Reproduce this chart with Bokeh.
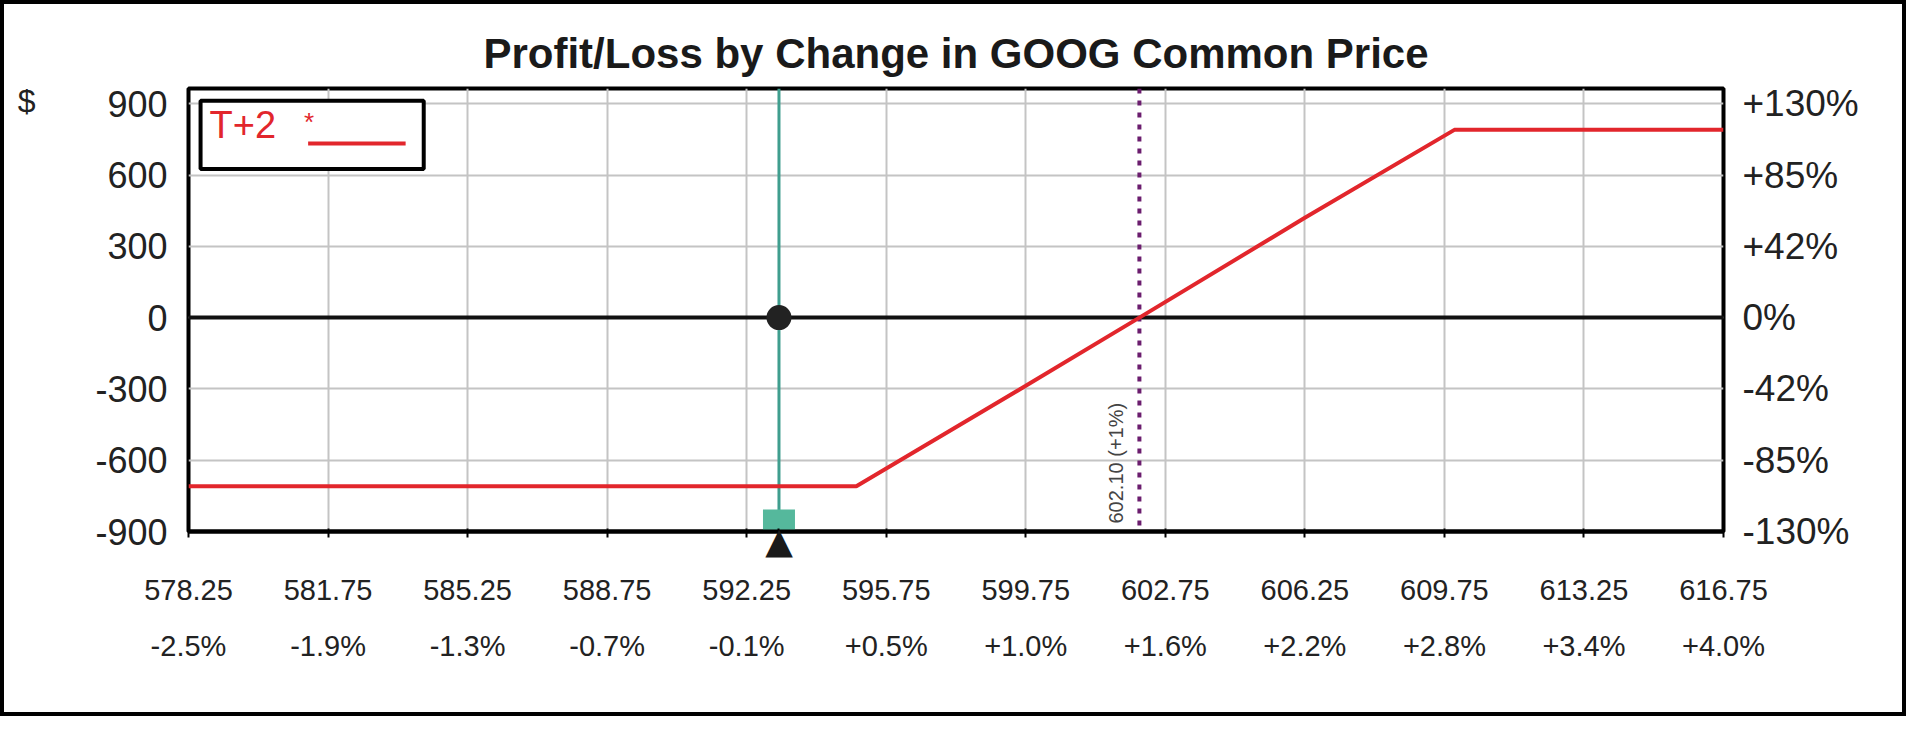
from bokeh.plotting import figure
from bokeh.models import Range1d, LinearAxis, FixedTicker, Span, Label, BoxAnnotation
from bokeh.embed import file_html
from bokeh.resources import INLINE

# ---------------- data ----------------
price = [578.25, 595.0, 599.25, 602.10, 606.25, 610.0, 616.75]
pnl = [-710, -710, -287, 0, 420, 790, 790]

x_ticks = [578.25, 581.75, 585.25, 588.75, 592.25, 595.75, 599.25, 602.75, 606.25, 609.75, 613.25, 616.75]
price_labels = ["578.25", "581.75", "585.25", "588.75", "592.25", "595.75", "599.75",
                "602.75", "606.25", "609.75", "613.25", "616.75"]
pct_labels = ["-2.5%", "-1.9%", "-1.3%", "-0.7%", "-0.1%", "+0.5%", "+1.0%",
              "+1.6%", "+2.2%", "+2.8%", "+3.4%", "+4.0%"]
y_ticks = [-900, -600, -300, 0, 300, 600, 900]
y_labels = ["-900", "-600", "-300", "0", "300", "600", "900"]
y_pct_labels = ["-130%", "-85%", "-42%", "0%", "+42%", "+85%", "+130%"]

current_price = 593.06
target_price = 602.10
target_text = "602.10 (+1%)"
legend_text = "T+2"
unit_text = "$"
unit_level = 912
title_text = "Profit/Loss by Change in GOOG Common Price"

# ---------------- geometry ----------------
X0, X1 = 578.25, 616.75
Y0, Y1 = -900, 964
FONT = "Liberation Sans"
RED = "#e2262c"
TXT = "#222222"

W, H = 1906, 716          # including the 4px CSS border
ORG = 12                  # page offset of the drawing area (margin + border)
IW, IH = W - 8, H - 8     # inner drawing area
FL, FR, FT, FB = 196, 1723, 96, 531  # frame edges in page pixels


def sx(px):
    return X0 + (px - FL) / (FR - FL) * (X1 - X0)


def sy(py):
    return Y0 + (FB - py) / (FB - FT) * (Y1 - Y0)


p = figure(width=W, height=H,
           x_range=Range1d(X0, X1), y_range=Range1d(Y0, Y1),
           output_backend="svg", toolbar_location=None,
           min_border_left=FL - ORG, min_border_right=ORG + IW - FR,
           min_border_top=FT - ORG, min_border_bottom=ORG + IH - FB)
p.styles = {"border": "4px solid black"}
p.background_fill_color = "white"
p.border_fill_color = "white"
p.outline_line_color = "black"
p.outline_line_width = 4

# title
p.title.text = title_text
p.title.align = "center"
p.title.text_font = FONT
p.title.text_font_size = "42px"
p.title.text_font_style = "bold"
p.title.text_color = "#1a1a1a"
p.title.standoff = 24

# grids
p.xgrid.ticker = FixedTicker(ticks=x_ticks)
p.ygrid.ticker = FixedTicker(ticks=y_ticks)
for g in (p.xgrid, p.ygrid):
    g.grid_line_color = "#c4c4c4"
    g.grid_line_width = 2

# bottom axis A: axis line, tick marks and the current-price triangle
xa = p.xaxis[0]
xa.ticker = FixedTicker(ticks=x_ticks + [current_price])
ov = {t: "" for t in x_ticks}
ov[current_price] = "\u25B2"
xa.major_label_overrides = ov
xa.axis_line_color = "black"
xa.axis_line_width = 4
xa.major_tick_line_color = "black"
xa.major_tick_line_width = 2
xa.major_tick_out = 6
xa.major_tick_in = 3
xa.minor_tick_line_color = None
xa.major_label_standoff = -18
xa.major_label_text_font = "DejaVu Sans"
xa.major_label_text_font_size = "36px"
xa.major_label_text_color = "#1a1a1a"


def label_axis(ticks, labels, standoff, size, loc):
    ax = LinearAxis(ticker=FixedTicker(ticks=ticks))
    ax.major_label_overrides = {t: l for t, l in zip(ticks, labels)}
    ax.axis_line_color = None
    ax.major_tick_line_color = None
    ax.minor_tick_line_color = None
    ax.major_tick_out = 0
    ax.major_tick_in = 0
    ax.major_label_standoff = standoff
    ax.major_label_text_font = FONT
    ax.major_label_text_font_size = size
    ax.major_label_text_color = TXT
    p.add_layout(ax, loc)
    return ax


# bottom axis B (price) and C (percent)
label_axis(x_ticks, price_labels, 16, "29px", "below")
label_axis(x_ticks, pct_labels, 27, "29px", "below")

# left axis ($)
ya = p.yaxis[0]
ya.ticker = FixedTicker(ticks=y_ticks)
ya.major_label_overrides = {t: l for t, l in zip(y_ticks, y_labels)}
ya.axis_line_color = None
ya.major_tick_line_color = None
ya.minor_tick_line_color = None
ya.major_tick_out = 0
ya.major_tick_in = 0
ya.major_label_standoff = 21
ya.major_label_text_font = FONT
ya.major_label_text_font_size = "36px"
ya.major_label_text_color = TXT

# unit label "$" as an outer left axis with a single tick
label_axis([unit_level], [unit_text], 57, "32px", "left")

# right axis (%)
label_axis(y_ticks, y_pct_labels, 19, "37px", "right")

# reference lines
p.add_layout(Span(location=0, dimension="width", line_color="#111111", line_width=4, level="underlay"))
p.add_layout(Span(location=target_price, dimension="height", line_color="#6b1d6e",
                  line_width=4, line_dash="5 7", level="underlay"))
p.add_layout(Span(location=current_price, dimension="height", line_color="#3f9e8e",
                  line_width=3, level="underlay"))

# P/L line
p.line(price, pnl, line_color=RED, line_width=4)

# markers at current price
p.scatter([current_price], [0], marker="circle", size=25, fill_color="#222222", line_color=None)
p.rect([current_price], [Y0], width=32, height=44, width_units="screen", height_units="screen",
       fill_color="#55b89c", line_color=None)

# target label
p.add_layout(Label(x=target_price, y=Y0, text=target_text, angle=90, angle_units="deg",
                   text_align="left", text_baseline="bottom", x_offset=-12, y_offset=8,
                   text_font=FONT, text_font_size="20px", text_color="#444444"))

# legend
p.add_layout(BoxAnnotation(left=sx(208), right=sx(430), top=sy(108), bottom=sy(175),
                           fill_color="white", fill_alpha=1, line_color="black", line_width=4,
                           line_alpha=1))
p.add_layout(Label(x=sx(217), y=sy(152), text=legend_text, text_font=FONT, text_font_size="38px",
                   text_color=RED))
p.add_layout(Label(x=sx(311), y=sy(144), text="*", text_font=FONT, text_font_size="26px",
                   text_color=RED))
p.add_layout(BoxAnnotation(left=sx(315), right=sx(412), top=sy(148), bottom=sy(152),
                           fill_color=RED, fill_alpha=1, line_color=None))

open("out.html", "w").write(file_html(p, INLINE))
